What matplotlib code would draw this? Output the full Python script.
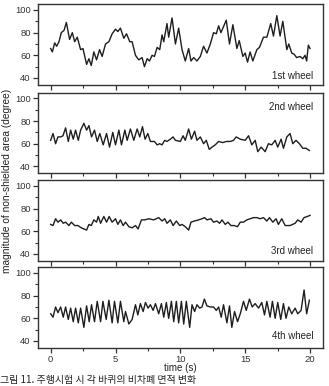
import matplotlib
matplotlib.use('Agg')
import matplotlib.pyplot as plt
from matplotlib.ticker import MultipleLocator

plt.rcParams['font.family'] = ['Liberation Sans', 'Noto Sans CJK KR', 'DejaVu Sans']

# wheel 1
t1 = [0.00, 0.13, 0.31, 0.46, 0.64, 0.82, 1.03, 1.21, 1.46, 1.67, 1.85, 2.05, 2.31, 2.49,
      2.77, 2.95, 3.13, 3.33, 3.54, 3.77, 3.97, 4.23, 4.49, 4.74, 5.00, 5.18, 5.38, 5.64,
      5.85, 6.10, 6.28, 6.54, 6.79, 7.05, 7.23, 7.44, 7.62, 7.82, 8.00, 8.21, 8.41, 8.59,
      8.72, 8.97, 9.10, 9.36, 9.62, 9.87, 10.13, 10.38, 10.64, 10.82, 11.03, 11.28, 11.54,
      11.79, 12.05, 12.31, 12.56, 12.77, 12.95, 13.13, 13.54, 13.79, 14.05, 14.36, 14.54,
      14.82, 15.00, 15.18, 15.38, 15.59, 15.90, 16.10, 16.41, 16.67, 16.97, 17.18, 17.44,
      17.69, 17.90, 18.21, 18.36, 18.59, 18.77, 18.97, 19.23, 19.44, 19.62, 19.74, 19.87, 20.00]
y1 = [66, 63, 71, 68, 72, 80, 82, 89, 74, 80, 72, 76, 65, 66,
      52, 57, 51, 63, 56, 65, 59, 70, 72, 79, 83, 81, 84, 75,
      79, 72, 72, 60, 56, 58, 50, 57, 55, 60, 59, 67, 65, 78,
      72, 88, 76, 93, 70, 84, 65, 55, 66, 55, 58, 55, 59,
      68, 62, 70, 80, 79, 86, 80, 91, 70, 87, 66, 73,
      59, 62, 54, 63, 55, 65, 67, 76, 76, 88, 77, 95,
      77, 90, 65, 70, 62, 61, 58, 59, 57, 60, 55, 69, 66]

# wheel 2
t2 = [0.00, 0.18, 0.38, 0.56, 0.77, 0.95, 1.15, 1.36, 1.54, 1.74, 1.92, 2.13, 2.31, 2.56,
      2.77, 2.95, 3.15, 3.38, 3.59, 3.79, 4.05, 4.31, 4.54, 4.79, 5.00, 5.26, 5.46, 5.72,
      5.90, 6.15, 6.41, 6.67, 6.87, 7.08, 7.28, 7.49, 7.69, 8.00, 8.21, 8.41, 8.59, 8.79,
      8.97, 9.23, 9.44, 9.62, 10.00, 10.21, 10.38, 10.64, 10.85, 11.10, 11.28, 11.54, 11.79,
      12.00, 12.23, 12.44, 12.69, 12.95, 13.28, 13.54, 13.85, 14.10, 14.31, 14.62, 15.00,
      15.26, 15.51, 15.77, 15.97, 16.23, 16.54, 16.79, 17.05, 17.31, 17.51, 17.77, 17.95,
      18.21, 18.46, 18.67, 18.92, 19.18, 19.44, 19.69, 19.95]
y2 = [63, 69, 60, 66, 66, 67, 74, 62, 72, 64, 72, 63, 72, 78,
      72, 76, 66, 72, 62, 69, 59, 69, 57, 70, 59, 72, 59, 72,
      63, 73, 63, 73, 66, 75, 64, 69, 62, 62, 59, 60, 59, 63,
      62, 64, 66, 63, 62, 67, 63, 73, 64, 71, 63, 66, 60,
      63, 55, 57, 59, 62, 61, 62, 62, 63, 66, 64, 63,
      67, 59, 63, 53, 57, 53, 60, 59, 63, 57, 64, 56,
      66, 69, 60, 63, 60, 56, 56, 54]

# wheel 3
t3 = [0.00, 0.18, 0.38, 0.56, 0.77, 0.97, 1.15, 1.41, 1.59, 1.85, 2.10, 2.36, 2.56, 2.77,
      2.95, 3.13, 3.33, 3.54, 3.67, 3.85, 4.10, 4.31, 4.51, 4.74, 5.00, 5.18, 5.38, 5.59,
      5.77, 6.03, 6.28, 6.54, 6.74, 7.00, 7.26, 7.56, 7.95, 8.33, 8.59, 8.79, 8.97, 9.23,
      9.44, 9.69, 9.95, 10.13, 10.38, 10.64, 10.82, 11.08, 11.41, 11.67, 11.87, 12.05, 12.36,
      12.56, 12.82, 13.03, 13.21, 13.46, 13.67, 13.90, 14.15, 14.41, 14.62, 14.87, 15.13,
      15.38, 15.64, 15.90, 16.15, 16.41, 16.67, 16.87, 17.13, 17.38, 17.56, 17.82, 18.08,
      18.46, 18.85, 19.05, 19.31, 19.54, 19.79, 20.00]
y3 = [66, 65, 71, 68, 70, 67, 68, 65, 68, 65, 65, 63, 62, 61,
      66, 65, 70, 68, 73, 67, 73, 68, 73, 68, 71, 66, 70, 65,
      68, 64, 63, 65, 62, 70, 70, 71, 70, 72, 69, 71, 67, 70,
      65, 69, 65, 66, 64, 61, 68, 69, 70, 71, 72, 70, 71,
      68, 69, 67, 70, 66, 68, 65, 65, 64, 68, 68, 70,
      71, 72, 72, 71, 72, 69, 72, 68, 71, 66, 71, 65,
      65, 67, 70, 68, 72, 73, 74]

# wheel 4
t4 = [0.00, 0.18, 0.38, 0.56, 0.77, 0.97, 1.15, 1.36, 1.54, 1.74, 1.92, 2.13, 2.31, 2.56,
      2.77, 2.97, 3.15, 3.38, 3.59, 3.85, 4.03, 4.28, 4.49, 4.74, 4.92, 5.18, 5.38, 5.64,
      5.77, 6.03, 6.28, 6.54, 6.72, 6.92, 7.13, 7.31, 7.51, 7.69, 7.90, 8.08, 8.33, 8.54,
      8.72, 8.92, 9.10, 9.31, 9.49, 9.69, 9.87, 10.08, 10.26, 10.46, 10.72, 10.90, 11.10,
      11.28, 11.49, 11.67, 11.85, 12.05, 12.31, 12.56, 12.77, 12.95, 13.15, 13.33, 13.59,
      13.79, 13.97, 14.18, 14.41, 14.62, 14.87, 15.08, 15.33, 15.54, 15.77, 16.03, 16.28,
      16.49, 16.67, 16.92, 17.10, 17.31, 17.51, 17.74, 17.95, 18.15, 18.36, 18.59, 18.85,
      19.05, 19.31, 19.54, 19.74, 19.95]
y4 = [64, 61, 70, 65, 70, 61, 70, 59, 69, 57, 69, 56, 69, 52,
      71, 57, 72, 57, 75, 57, 75, 59, 76, 56, 75, 56, 75, 57,
      66, 55, 59, 72, 63, 73, 66, 74, 69, 72, 67, 73, 64, 73,
      61, 74, 60, 75, 57, 75, 56, 75, 55, 75, 52, 72, 66,
      72, 69, 70, 77, 71, 70, 70, 67, 70, 61, 72, 56,
      71, 52, 66, 57, 64, 75, 67, 77, 70, 73, 69, 74,
      63, 75, 61, 75, 60, 74, 59, 73, 60, 70, 64, 69,
      64, 67, 85, 64, 76]

labels = ['1st wheel', '2nd wheel', '3rd wheel', '4th wheel']
series = [(t1, y1), (t2, y2), (t3, y3), (t4, y4)]
label_y = [0.11, 0.825, 0.125, 0.147]

fig = plt.figure(figsize=(3.29, 3.86), dpi=100)
tops = [4.3, 92.7, 180.2, 267.3]
h = 80.5
for i, (t, y) in enumerate(series):
    bottom = 1 - (tops[i] + h) / 386
    ax = fig.add_axes([37.7 / 329, bottom, 285.3 / 329, h / 386])
    ax.plot(t, y, color='#1e1e1e', lw=1.0)
    ax.set_xlim(-1, 21)
    ax.set_ylim(34, 105)
    ax.xaxis.set_major_locator(MultipleLocator(5))
    ax.xaxis.set_minor_locator(MultipleLocator(2.5))
    ax.yaxis.set_major_locator(MultipleLocator(20))
    ax.yaxis.set_minor_locator(MultipleLocator(10))
    ax.tick_params(which='major', direction='out', length=3.5, width=0.9,
                   labelsize=6.8, pad=1.5, colors='#333333')
    ax.tick_params(which='minor', direction='out', length=2, width=0.8, colors='#333333')
    for s in ax.spines.values():
        s.set_linewidth(1.0)
        s.set_color('#333333')
    if i < 3:
        ax.tick_params(axis='x', labelbottom=False)
    else:
        ax.set_xlabel('time (s)', fontsize=7, labelpad=-0.5, color='#222222')
    ax.text(0.965, label_y[i], labels[i], transform=ax.transAxes, ha='right',
            va='center', fontsize=7, color='#222222')

fig.text(7 / 329, 1 - 180.5 / 386, 'magnitude of non-shielded area (degree)',
         rotation=90, ha='center', va='center', fontsize=7.3, color='#222222')
fig.text(0.0, 0.002, '그림 11. 주행시험 시 각 바퀴의 비차폐 면적 변화',
         ha='left', va='bottom', fontsize=7.2, color='#222222',
         family=['Noto Sans CJK KR', 'DejaVu Sans'])

fig.savefig('out.png', dpi=100)
